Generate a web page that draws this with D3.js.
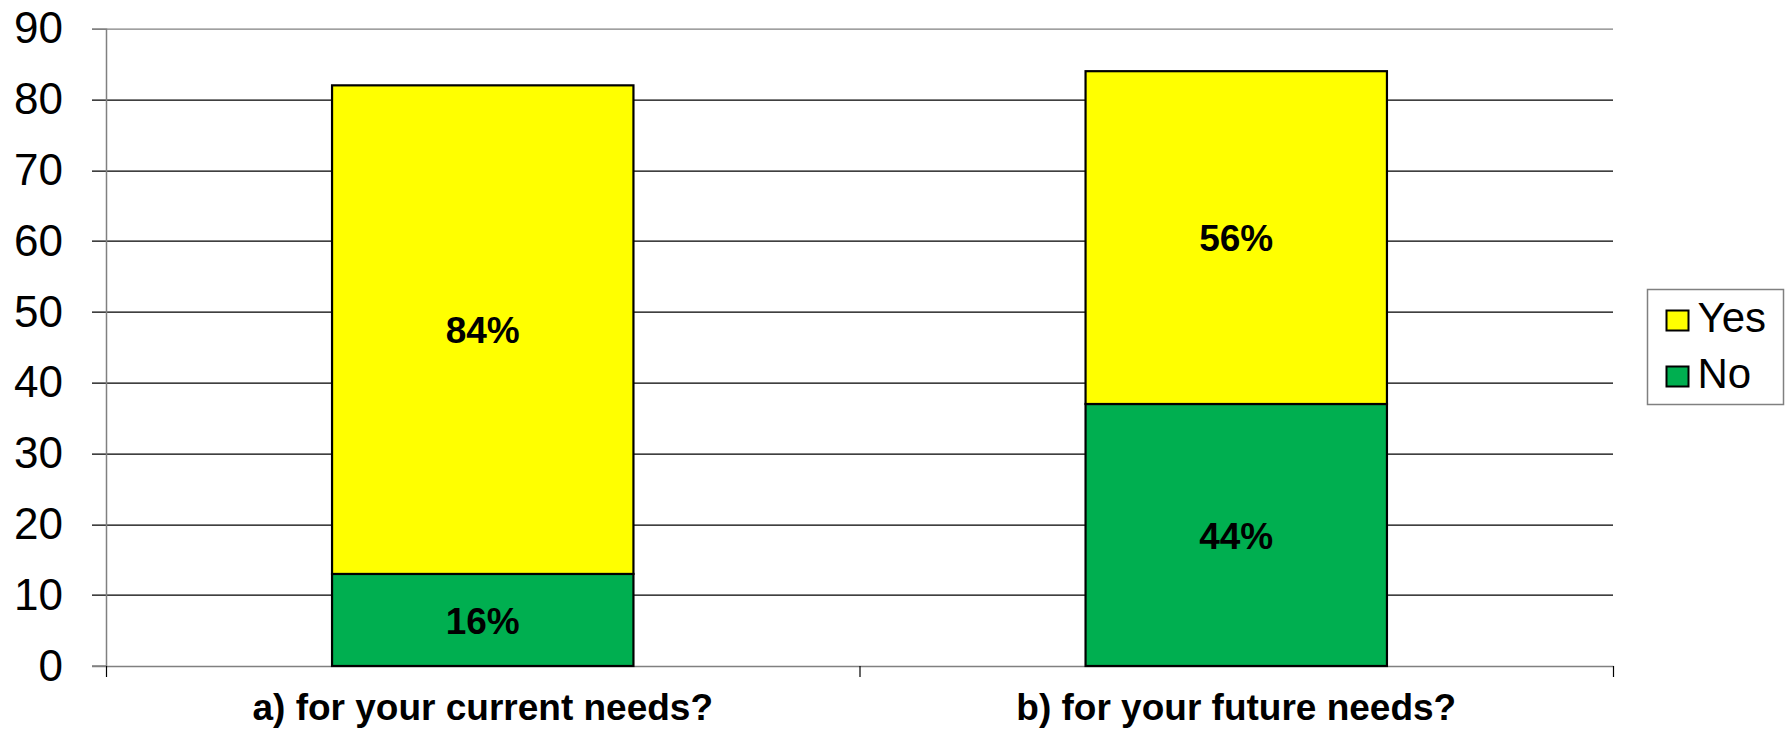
<!DOCTYPE html>
<html>
<head>
<meta charset="utf-8">
<script src="https://cdn.jsdelivr.net/npm/d3@7"></script>
<style>
  body { margin: 0; background: #fff; }
  text { font-family: "Liberation Sans", Arial, sans-serif; fill: #000; }
</style>
</head>
<body>
<div class="canvas"></div>
<script>
// chart data
const categories = ['a) for your current needs?', 'b) for your future needs?'];
const seriesNames = ['No', 'Yes'];
const noValues = [13, 37];
const yesValues = [69, 47];
const noLabels = ['16%', '44%'];
const yesLabels = ['84%', '56%'];
const yTicks = [0, 10, 20, 30, 40, 50, 60, 70, 80, 90];
const colors = {No: '#00AF50', Yes: '#FFFF00'};

// svg container
const svg = d3.select('.canvas')
    .append('svg')
        .attr('width', 1787)
        .attr('height', 729);

// margins and dimensions
const margin = {top: 28.7, right: 174, bottom: 63, left: 106};
const graphWidth = 1787 - margin.left - margin.right;
const graphHeight = 729 - margin.top - margin.bottom;

const graph = svg.append('g')
    .attr('transform', `translate(${margin.left}, ${margin.top})`);

// scales
const y = d3.scaleLinear()
    .domain([0, 90])
    .range([graphHeight, 0]);

const x = d3.scaleBand()
    .domain(categories)
    .range([0, graphWidth])
    .paddingInner(0.6)
    .paddingOuter(0.3);

// boundaries between categories for the x tick marks
const xEdges = d3.scaleLinear()
    .domain([0, categories.length])
    .range([0, graphWidth]);

// gridlines
graph.append('g')
    .selectAll('line')
    .data(yTicks.filter(d => d > 0))
    .enter()
    .append('line')
        .attr('x1', -14)
        .attr('x2', graphWidth)
        .attr('y1', d => Math.round(y(d)) + 0.5)
        .attr('y2', d => Math.round(y(d)) + 0.5)
        .attr('stroke', d => d === 90 ? '#808080' : '#000')
        .attr('stroke-width', 1.2);

// y axis
const yAxisGroup = graph.append('g');
yAxisGroup.call(d3.axisLeft(y)
    .tickValues(yTicks)
    .tickSize(14)
    .tickPadding(29));
yAxisGroup.select('.domain').attr('stroke', '#808080').attr('stroke-width', 1.5);
yAxisGroup.selectAll('line').attr('stroke', 'none');
yAxisGroup.selectAll('text')
    .attr('font-size', 44)
    .attr('font-family', '"Liberation Sans", Arial, sans-serif')
    .attr('fill', '#000');

// x axis (tick marks at category boundaries)
const xAxisGroup = graph.append('g')
    .attr('transform', `translate(0, ${graphHeight})`);
xAxisGroup.call(d3.axisBottom(xEdges)
    .ticks(categories.length)
    .tickSize(11)
    .tickSizeOuter(0)
    .tickFormat(''));
xAxisGroup.select('.domain').attr('stroke', '#808080').attr('stroke-width', 1.5);
xAxisGroup.selectAll('line').attr('stroke', '#000').attr('stroke-width', 1.2);

// zero line tick on the y axis
graph.append('line')
    .attr('x1', -14)
    .attr('x2', 0)
    .attr('y1', y(0))
    .attr('y2', y(0))
    .attr('stroke', '#808080')
    .attr('stroke-width', 1.5);

// stacked bars
const table = categories.map((c, i) => ({cat: c, No: noValues[i], Yes: yesValues[i]}));
const labels = {No: noLabels, Yes: yesLabels};
const stacked = d3.stack().keys(seriesNames)(table);

const layers = graph.selectAll('g.layer')
    .data(stacked)
    .enter()
    .append('g')
        .attr('class', 'layer')
        .attr('fill', d => colors[d.key]);

layers.selectAll('rect')
    .data(d => d)
    .enter()
    .append('rect')
        .attr('x', d => x(d.data.cat))
        .attr('y', d => y(d[1]))
        .attr('width', x.bandwidth())
        .attr('height', d => y(d[0]) - y(d[1]))
        .attr('stroke', '#000')
        .attr('stroke-width', 2.2);

// value labels
layers.selectAll('text')
    .data(d => d.map((v, i) => ({v, label: labels[d.key][i]})))
    .enter()
    .append('text')
        .attr('x', d => x(d.v.data.cat) + x.bandwidth() / 2)
        .attr('y', d => y((d.v[0] + d.v[1]) / 2))
        .attr('dy', '0.37em')
        .attr('text-anchor', 'middle')
        .attr('font-size', 37)
        .attr('font-weight', 'bold')
        .text(d => d.label);

// category labels
graph.append('g')
    .selectAll('text')
    .data(categories)
    .enter()
    .append('text')
        .attr('x', d => x(d) + x.bandwidth() / 2)
        .attr('y', graphHeight + 54)
        .attr('text-anchor', 'middle')
        .attr('font-size', 37)
        .attr('font-weight', 'bold')
        .text(d => d);

// legend
const legend = svg.append('g')
    .attr('transform', 'translate(1647.5, 289.5)');

legend.append('rect')
    .attr('width', 136)
    .attr('height', 115)
    .attr('fill', '#fff')
    .attr('stroke', '#808080')
    .attr('stroke-width', 1.5);

const legendItems = legend.selectAll('g.item')
    .data(['Yes', 'No'])
    .enter()
    .append('g')
        .attr('class', 'item')
        .attr('transform', (d, i) => `translate(19, ${21 + i * 56})`);

legendItems.append('rect')
    .attr('width', 22)
    .attr('height', 20)
    .attr('fill', d => colors[d])
    .attr('stroke', '#000')
    .attr('stroke-width', 2);

legendItems.append('text')
    .attr('x', 31)
    .attr('y', 21)
    .attr('font-size', 42)
    .text(d => d);
</script>
</body>
</html>
